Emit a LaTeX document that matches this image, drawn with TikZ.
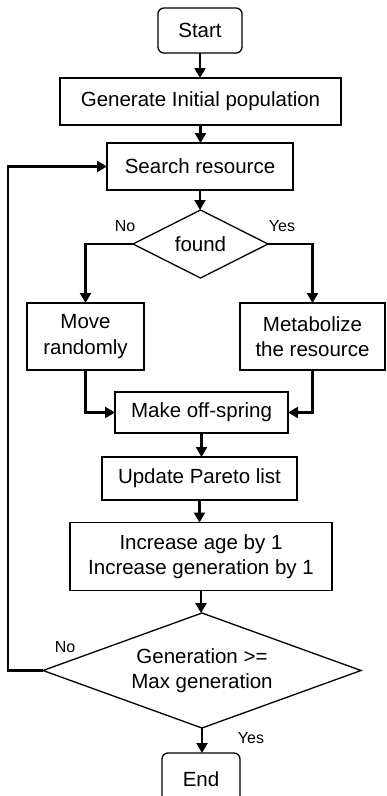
\documentclass[tikz,border=0pt]{standalone}
\usepackage{fontspec}
\setmainfont{Liberation Sans}
\usetikzlibrary{arrows.meta,shapes.geometric}
\begin{document}
\begin{tikzpicture}[x=1pt,y=-1pt,
  every node/.style={inner sep=0pt, outer sep=0pt},
  box/.style={draw, line width=1.3pt, align=center, font=\fontsize{20.5}{25.5}\selectfont},
  term/.style={box, rounded corners=6pt},
  dec/.style={draw, line width=1.3pt, diamond, align=center, font=\fontsize{20.5}{25.5}\selectfont},
  lab/.style={font=\fontsize{16}{19}\selectfont},
  conn/.style={line width=2.2pt, -{Triangle[length=10pt,width=11pt]}}]
\useasboundingbox (0,0) rectangle (386,796);
\node[term, minimum width=84pt, minimum height=45pt] (start) at (200,30.5) {Start};
\node[box, minimum width=281pt, minimum height=47pt] (gen) at (200.5,101.5) {Generate Initial population};
\node[box, minimum width=186pt, minimum height=47pt] (search) at (200,166.5) {Search resource};
\node[dec, minimum width=135pt, minimum height=68pt, aspect=2] (found) at (200.5,244) {found};
\node[box, minimum width=117pt, minimum height=67pt] (move) at (85.5,336.5) {Move\\randomly};
\node[box, minimum width=145pt, minimum height=67pt] (meta) at (312.5,336.5) {Metabolize\\the resource};
\node[box, minimum width=173pt, minimum height=41pt] (make) at (201.5,412.5) {Make off-spring};
\node[box, minimum width=195pt, minimum height=43pt] (update) at (199.5,478.5) {Update Pareto list};
\node[box, minimum width=262pt, minimum height=68pt] (incr) at (201,556.5) {Increase age by 1\\Increase generation by 1};
\node[dec, minimum width=318pt, minimum height=115pt, aspect=2.77] (gd) at (202,670.5) {Generation >=\\Max generation};
\node[term, minimum width=78pt, minimum height=52pt] (end) at (201,779) {End};
\node[lab] (no1) at (125,226) {No};
\node[lab] (yes1) at (282,226) {Yes};
\node[lab] (no2) at (65,647) {No};
\node[lab] (yes2) at (251,738) {Yes};
\coordinate (lp) at (8,670.5);
\draw[conn] (start.south) -- (start.south |- gen.north);
\draw[conn] (gen.south) -- (gen.south |- search.north);
\draw[conn] (search.south) -- (search.south |- found.north);
\draw[conn] (found.west) -| (move.north);
\draw[conn] (found.east) -| (meta.north);
\draw[conn] (move.south) |- (make.west);
\draw[conn] (meta.south) |- (make.east);
\draw[conn] (make.south) -- (make.south |- update.north);
\draw[conn] (update.south) -- (update.south |- incr.north);
\draw[conn] (incr.south) -- (incr.south |- gd.north);
\draw[conn] (gd.west) -- (lp) |- (search.west);
\draw[conn] (gd.south) -- (gd.south |- end.north);
\end{tikzpicture}
\end{document}
